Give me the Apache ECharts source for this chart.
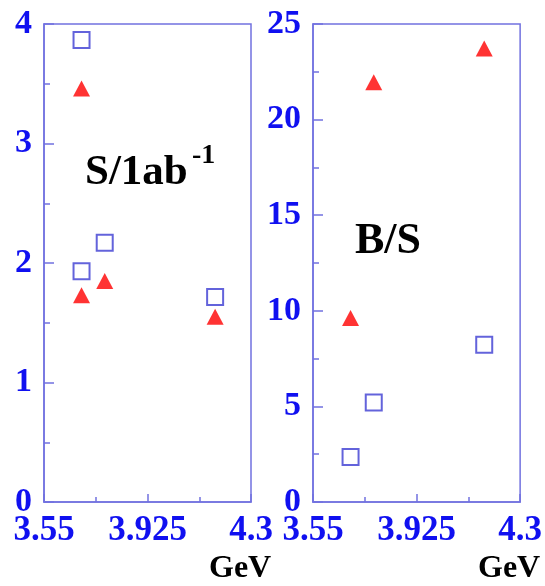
<!DOCTYPE html>
<html>
<head>
<meta charset="utf-8">
<script src="https://cdn.jsdelivr.net/npm/echarts@6/dist/echarts.min.js"></script>
<style>
  html, body { margin: 0; padding: 0; background: #ffffff; }
  #chart { width: 545px; height: 586px; }
</style>
</head>
<body>
<div id="chart"></div>
<script>
// Centre-of-mass energies (GeV) of each measurement
const sigOpenX   = [3.686, 3.686, 3.770, 4.170];
const sigOpenY   = [3.866, 1.93, 2.17, 1.715];
const sigFilledX = [3.686, 3.686, 3.770, 4.170];
const sigFilledY = [3.46, 1.73, 1.85, 1.55];

const bsOpenX    = [3.686, 3.770, 4.170];
const bsOpenY    = [2.35, 5.21, 8.23];
const bsFilledX  = [3.686, 3.770, 4.170];
const bsFilledY  = [9.62, 21.95, 23.72];

// Axis ranges and steps
const xRange = [3.55, 4.3];
const xStep = 0.375;
const sigRange = [0, 4];
const sigStep = 1;
const bsRange = [0, 25];
const bsStep = 5;

const pairs = (xs, ys) => xs.map((x, i) => [x, ys[i]]);

const FONT = '"Liberation Serif", "Times New Roman", serif';
const AXIS_COLOR = '#7272e0';
const LABEL_COLOR = '#1010f0';
const OPEN_COLOR = '#3c3cd2';
const FILLED_COLOR = '#ff0000';

function xAxisCfg(gridIndex) {
  return {
    gridIndex, type: 'value', min: xRange[0], max: xRange[1], interval: xStep,
    axisLine: { show: true, lineStyle: { color: AXIS_COLOR, width: 1.5 } },
    axisTick: { show: true, inside: true, length: 8, lineStyle: { color: AXIS_COLOR, width: 1.5 } },
    minorTick: { show: true, splitNumber: 2, length: 5, lineStyle: { color: AXIS_COLOR, width: 1.5 } },
    splitLine: { show: false },
    axisLabel: {
      show: true, margin: 11, showMinLabel: true, showMaxLabel: true,
      color: LABEL_COLOR, fontFamily: FONT, fontWeight: 'bold', fontSize: 35, lineHeight: 35,
      formatter: v => String(+v.toFixed(3))
    }
  };
}

function yAxisCfg(gridIndex, range, step) {
  return {
    gridIndex, type: 'value', min: range[0], max: range[1], interval: step,
    axisLine: { show: true, lineStyle: { color: AXIS_COLOR, width: 1.5 } },
    axisTick: { show: true, inside: true, length: 10, lineStyle: { color: AXIS_COLOR, width: 1.5 } },
    minorTick: { show: true, splitNumber: 2, length: 6, lineStyle: { color: AXIS_COLOR, width: 1.5 } },
    splitLine: { show: false },
    axisLabel: {
      show: true, margin: 12, showMinLabel: true, showMaxLabel: true,
      color: LABEL_COLOR, fontFamily: FONT, fontWeight: 'bold', fontSize: 34, lineHeight: 34
    }
  };
}

const openStyle = {
  symbol: 'rect', symbolSize: 16,
  itemStyle: { color: 'rgba(255,255,255,0)', borderColor: OPEN_COLOR, borderWidth: 2 }
};
const filledStyle = {
  symbol: 'triangle', symbolSize: [17, 16],
  itemStyle: { color: FILLED_COLOR }
};

const chart = echarts.init(document.getElementById('chart'), null, { renderer: 'canvas' });
chart.setOption({
  animation: false,
  backgroundColor: '#ffffff',
  grid: [
    { left: 44, top: 24, width: 207, height: 478, show: true, borderColor: AXIS_COLOR, borderWidth: 1.5, backgroundColor: 'transparent' },
    { left: 313, top: 24, width: 208, height: 478, show: true, borderColor: AXIS_COLOR, borderWidth: 1.5, backgroundColor: 'transparent' }
  ],
  xAxis: [xAxisCfg(0), xAxisCfg(1)],
  yAxis: [yAxisCfg(0, sigRange, sigStep), yAxisCfg(1, bsRange, bsStep)],
  series: [
    Object.assign({ type: 'scatter', name: 'S open', xAxisIndex: 0, yAxisIndex: 0, data: pairs(sigOpenX, sigOpenY) }, openStyle),
    Object.assign({ type: 'scatter', name: 'S filled', xAxisIndex: 0, yAxisIndex: 0, data: pairs(sigFilledX, sigFilledY) }, filledStyle),
    Object.assign({ type: 'scatter', name: 'B/S open', xAxisIndex: 1, yAxisIndex: 1, data: pairs(bsOpenX, bsOpenY) }, openStyle),
    Object.assign({ type: 'scatter', name: 'B/S filled', xAxisIndex: 1, yAxisIndex: 1, data: pairs(bsFilledX, bsFilledY) }, filledStyle)
  ],
  graphic: [
    { type: 'text', left: 85, top: 151, style: { text: 'S/1ab', fill: '#000', font: 'bold 43px ' + FONT } },
    { type: 'text', left: 192, top: 142, style: { text: '-1', fill: '#000', font: 'bold 28px ' + FONT } },
    { type: 'text', left: 355, top: 220, style: { text: 'B/S', fill: '#000', font: 'bold 44px ' + FONT } },
    { type: 'text', left: 209, top: 553, style: { text: 'GeV', fill: '#000', font: 'bold 32px ' + FONT } },
    { type: 'text', left: 478, top: 553, style: { text: 'GeV', fill: '#000', font: 'bold 32px ' + FONT } }
  ]
});
</script>
</body>
</html>
